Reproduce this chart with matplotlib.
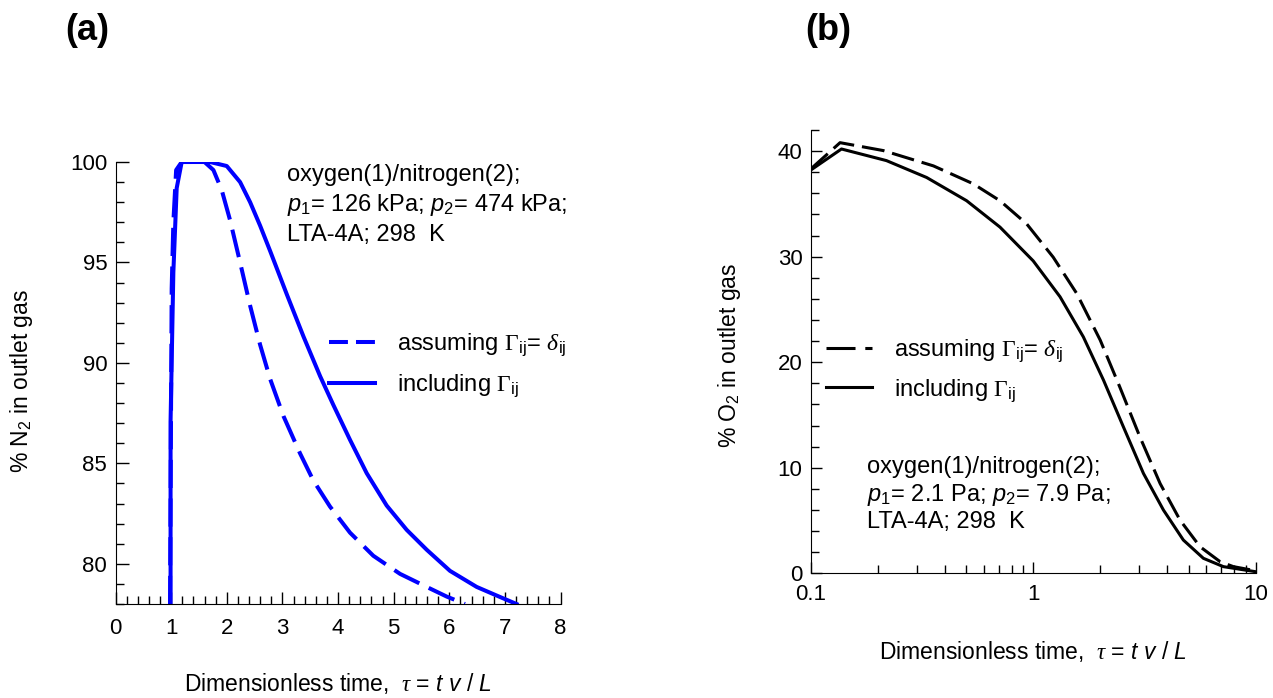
import numpy as np
import matplotlib
matplotlib.use("Agg")
import matplotlib.pyplot as plt
from matplotlib.lines import Line2D
from matplotlib.ticker import MultipleLocator, FixedLocator, NullFormatter, FixedFormatter

plt.rcParams['font.family'] = ['Liberation Sans', 'DejaVu Sans']
plt.rcParams['mathtext.fontset'] = 'custom'
plt.rcParams['mathtext.rm'] = 'Liberation Sans'
plt.rcParams['mathtext.it'] = 'Liberation Sans:italic'
plt.rcParams['mathtext.bf'] = 'Liberation Sans:bold'
plt.rcParams['mathtext.sf'] = 'Liberation Serif'
plt.rcParams['mathtext.cal'] = 'Liberation Serif:italic'

# ---------------- Panel (a) data: % N2 vs tau ----------------
tau_a_delta = [0.98, 1.01, 1.04, 1.09, 1.19, 1.40, 1.60, 1.76, 1.91, 2.06, 2.24, 2.42, 2.60,
               2.78, 3.02, 3.317, 3.556, 3.856, 4.216, 4.635, 5.115, 5.595, 5.954, 6.283]
n2_delta = [78.0, 93.7, 97.0, 99.6, 100.0, 100.0, 100.0, 99.6, 98.6, 97.1, 95.0, 92.85, 90.9,
            89.2, 87.35, 85.5, 84.15, 82.85, 81.55, 80.4, 79.5, 78.85, 78.37, 78.0]

tau_a_gamma = [0.99, 0.99, 1.04, 1.10, 1.19, 1.45, 1.70, 2.0, 2.24, 2.42, 2.60, 2.78, 3.08,
               3.38, 3.68, 3.916, 4.216, 4.516, 4.875, 5.235, 5.595, 6.013, 6.493, 6.912, 7.21]
n2_gamma = [78.0, 87.1, 94.5, 98.7, 100.0, 100.0, 100.0, 99.8, 99.0, 98.0, 96.83, 95.57, 93.41,
            91.31, 89.33, 87.91, 86.17, 84.51, 82.9, 81.69, 80.70, 79.65, 78.85, 78.35, 78.0]

# ---------------- Panel (b) data: % O2 vs tau (log) ----------------
tau_b_delta = [0.1, 0.1355, 0.212, 0.356, 0.538, 0.709, 0.935, 1.23, 1.57, 2.0, 2.45, 3.02,
               3.72, 4.57, 5.62, 6.92, 7.94, 9.93]
o2_delta = [38.3, 40.8, 40.05, 38.6, 36.9, 35.3, 33.1, 29.95, 26.5, 22.1, 17.65, 12.9,
            8.5, 5.04, 2.52, 1.1, 0.63, 0.25]

tau_b_gamma = [0.1, 0.1375, 0.219, 0.332, 0.502, 0.709, 1.0, 1.32, 1.68, 2.07, 2.54, 3.13,
               3.85, 4.73, 5.82, 7.16, 9.93]
o2_gamma = [38.2, 40.2, 39.1, 37.5, 35.3, 32.8, 29.6, 26.2, 22.4, 18.3, 13.9, 9.46,
            5.99, 3.15, 1.42, 0.63, 0.16]

xticks_a = [0, 1, 2, 3, 4, 5, 6, 7, 8]
yticks_a = [80, 85, 90, 95, 100]
xticks_b = [0.1, 1, 10]
xticklabels_b = ['0.1', '1', '10']
yticks_b = [0, 10, 20, 30, 40]

lab_delta = r'assuming $\mathsf{\Gamma}_{\mathrm{ij}}$= $\mathcal{\delta}_{\mathrm{ij}}$'
lab_gamma = r'including $\mathsf{\Gamma}_{\mathrm{ij}}$'
xlabel = r'Dimensionless time,  $\mathcal{\tau}$ = $t$ $v$ / $L$'

W, H = 1273, 698
fig = plt.figure(figsize=(W / 100, H / 100), dpi=100)

def px_axes(x0, x1, ytop, ybot):
    return fig.add_axes([x0 / W, 1 - ybot / H, (x1 - x0) / W, (ybot - ytop) / H])

TICKFS = 16
LABFS = 16.5
ANNFS = 17
PANFS = 26

# ---------------- Panel (a) ----------------
A_L, A_R, A_T, A_B = 115.5, 560.5, 162, 604
ax1 = px_axes(A_L, A_R, A_T, A_B)
blue = '#0000ff'
LW1 = 2.9
ax1.plot(tau_a_delta, n2_delta, color=blue, lw=LW1, ls=(0, (7, 2.6)), dash_capstyle='butt')
ax1.plot(tau_a_gamma, n2_gamma, color=blue, lw=LW1, ls='-')
ax1.set_xlim(0, 8)
ax1.set_ylim(78, 100)
for s in ['top', 'right']:
    ax1.spines[s].set_visible(False)
ax1.xaxis.set_major_locator(FixedLocator(xticks_a))
ax1.xaxis.set_minor_locator(MultipleLocator(0.2))
ax1.yaxis.set_major_locator(FixedLocator(yticks_a))
ax1.yaxis.set_minor_locator(MultipleLocator(1))
ax1.tick_params(which='major', direction='in', length=9, width=1, labelsize=TICKFS, pad=10)
ax1.tick_params(which='minor', direction='in', length=6, width=1)
ax1.tick_params(axis='y', which='major', pad=6)
ax1.set_xlabel(xlabel, fontsize=LABFS)
ax1.xaxis.set_label_coords(0.5, (A_B - 683) / (A_B - A_T))
ax1.xaxis.label.set_verticalalignment('center')
ax1.set_ylabel(r'% N$_2$ in outlet gas', fontsize=LABFS)
ax1.yaxis.set_label_coords((22 - A_L) / (A_R - A_L), (A_B - 381) / (A_B - A_T))
ax1.yaxis.label.set_verticalalignment('center')
ax1.text((287 - A_L) / (A_R - A_L), (A_B - 164) / (A_B - A_T),
         'oxygen(1)/nitrogen(2);\n$p_1$= 126 kPa; $p_2$= 474 kPa;\nLTA-4A; 298  K',
         transform=ax1.transAxes, fontsize=ANNFS, va='top', ha='left', linespacing=1.32)
h1 = [Line2D([], [], color=blue, lw=LW1, ls=(0, (4.7, 2.0)), dash_capstyle='butt'),
      Line2D([], [], color=blue, lw=LW1, ls='-')]
ax1.legend(h1, [lab_delta, lab_gamma], loc='upper left',
           bbox_to_anchor=((329 - A_L) / (A_R - A_L), (A_B - 332) / (A_B - A_T)),
           frameon=False, fontsize=ANNFS, handlelength=1.95, handletextpad=0.93,
           labelspacing=0.55, borderpad=0, borderaxespad=0)
fig.text(87 / W, 1 - 30 / H, '(a)', fontsize=PANFS, fontweight='bold', ha='center', va='center')

# ---------------- Panel (b) ----------------
B_L, B_R, B_T, B_B = 810.7, 1255.7, 130, 573.3
ax2 = px_axes(B_L, B_R, B_T, B_B)
LW2 = 2.2
ax2.plot(tau_b_delta, o2_delta, color='black', lw=LW2, ls=(0, (7.5, 2.6)), dash_capstyle='butt')
ax2.plot(tau_b_gamma, o2_gamma, color='black', lw=LW2, ls='-')
ax2.set_xscale('log')
ax2.set_xlim(0.1, 10)
ax2.set_ylim(0, 42)
for s in ['top', 'right']:
    ax2.spines[s].set_visible(False)
ax2.xaxis.set_major_locator(FixedLocator(xticks_b))
ax2.xaxis.set_major_formatter(FixedFormatter(xticklabels_b))
ax2.xaxis.set_minor_formatter(NullFormatter())
ax2.yaxis.set_major_locator(FixedLocator(yticks_b))
ax2.yaxis.set_minor_locator(MultipleLocator(2))
ax2.tick_params(which='major', direction='in', length=8, width=1, labelsize=TICKFS, pad=8)
ax2.tick_params(which='minor', direction='in', length=6, width=1)
ax2.tick_params(axis='y', which='major', pad=6)
ax2.set_xlabel(xlabel, fontsize=LABFS)
ax2.xaxis.set_label_coords(0.5, (B_B - 651) / (B_B - B_T))
ax2.xaxis.label.set_verticalalignment('center')
ax2.set_ylabel(r'% O$_2$ in outlet gas', fontsize=LABFS)
ax2.yaxis.set_label_coords((730 - B_L) / (B_R - B_L), (B_B - 355) / (B_B - B_T))
ax2.yaxis.label.set_verticalalignment('center')
ax2.text((867 - B_L) / (B_R - B_L), (B_B - 456) / (B_B - B_T),
         'oxygen(1)/nitrogen(2);\n$p_1$= 2.1 Pa; $p_2$= 7.9 Pa;\nLTA-4A; 298  K',
         transform=ax2.transAxes, fontsize=ANNFS, va='top', ha='left', linespacing=1.2)
h2 = [Line2D([], [], color='black', lw=LW2, ls=(0, (9.5, 3.2)), dash_capstyle='butt'),
      Line2D([], [], color='black', lw=LW2, ls='-')]
ax2.legend(h2, [lab_delta, lab_gamma], loc='upper left',
           bbox_to_anchor=((826 - B_L) / (B_R - B_L), (B_B - 338) / (B_B - B_T)),
           frameon=False, fontsize=ANNFS, handlelength=1.95, handletextpad=0.93,
           labelspacing=0.5, borderpad=0, borderaxespad=0)
fig.text(828 / W, 1 - 30 / H, '(b)', fontsize=PANFS, fontweight='bold', ha='center', va='center')

fig.savefig('out.png', dpi=100)
